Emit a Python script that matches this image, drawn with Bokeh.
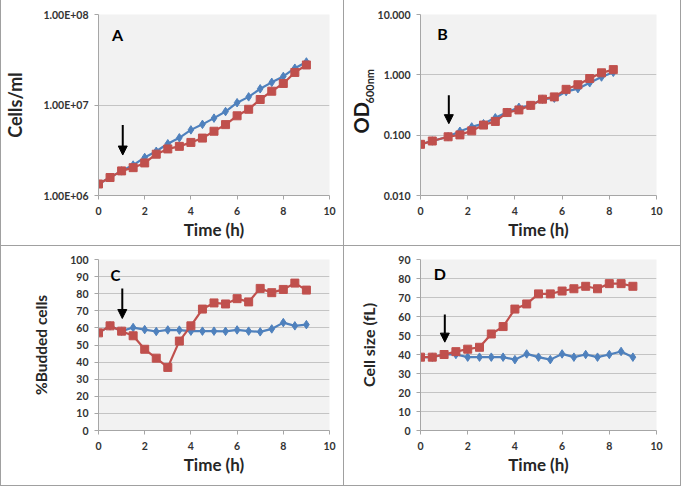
import math
from bokeh.plotting import figure
from bokeh.layouts import gridplot
from bokeh.models import FixedTicker, Label, Arrow, NormalHead, Range1d, Title
from bokeh.embed import file_html
from bokeh.resources import INLINE

# ---------------- data ----------------
time_a = [0, 0.5, 1, 1.5, 2, 2.5, 3, 3.5, 4, 4.5, 5, 5.5, 6, 6.5, 7, 7.5, 8, 8.5, 9]
cells_blue = [1.34e6, 1.58e6, 1.87e6, 2.17e6, 2.63e6, 3.08e6, 3.73e6, 4.34e6, 5.31e6, 6.11e6,
              7.16e6, 8.46e6, 1.06e7, 1.23e7, 1.51e7, 1.78e7, 2.07e7, 2.55e7, 2.99e7]
cells_red = [1.34e6, 1.58e6, 1.87e6, 2.03e6, 2.29e6, 2.86e6, 3.27e6, 3.49e6, 3.86e6, 4.31e6,
             5.13e6, 6.07e6, 7.6e6, 8.97e6, 1.15e7, 1.42e7, 1.73e7, 2.29e7, 2.77e7]

time_b = [0, 0.5, 1.17, 1.67, 2.17, 2.67, 3.17, 3.67, 4.17, 4.67, 5.17, 5.67, 6.17, 6.67, 7.17, 7.67, 8.17]
od_blue = [0.0705, 0.080, 0.094, 0.116, 0.137, 0.155, 0.194, 0.240, 0.289, 0.310,
           0.395, 0.410, 0.527, 0.590, 0.738, 0.920, 1.10]
od_red = [0.0705, 0.080, 0.094, 0.101, 0.118, 0.147, 0.169, 0.237, 0.262, 0.312,
          0.395, 0.431, 0.575, 0.685, 0.869, 1.08, 1.22]

time_c = time_a
budded_blue = [57.1, 61.2, 58.1, 60.2, 59.0, 57.9, 58.8, 58.7, 58.1, 58.1,
               58.1, 58.0, 58.8, 58.1, 57.7, 59.4, 63.1, 61.2, 61.9]
budded_red = [57.1, 61.2, 58.1, 55.4, 47.5, 42.3, 36.9, 52.3, 61.2, 71.0,
              74.6, 74.0, 77.1, 75.2, 83.1, 80.6, 82.5, 86.2, 82.1]

time_d = time_a
size_blue = [38.6, 38.6, 40.0, 40.0, 38.6, 38.6, 38.6, 38.6, 37.3, 40.3,
             38.6, 37.3, 40.3, 38.6, 40.0, 38.6, 40.0, 41.6, 38.6]
size_red = [38.6, 38.6, 40.0, 41.5, 42.8, 43.8, 50.8, 54.7, 63.9, 66.6,
            71.9, 71.9, 73.4, 74.6, 75.9, 74.6, 77.3, 77.3, 75.9]

x_ticks = [0, 2, 4, 6, 8, 10]
a_ticks = [1e6, 1e7, 1e8]
a_tick_labels = ["1.00E+06", "1.00E+07", "1.00E+08"]
b_ticks = [0.01, 0.1, 1, 10]
b_tick_labels = ["0.010", "0.100", "1.000", "10.000"]
c_ticks = list(range(0, 101, 10))
d_ticks = list(range(0, 91, 10))

# ---------------- style ----------------
BLUE = "#4f81bd"
RED = "#c0504d"
FONT = "Lato"
TICK_COL = "#333333"
AXIS_COL = "#a6a6a6"
GRID_COL = "#c4c4c4"
PANEL_LINE = "1px solid #a0a0a0"


def make_panel(w, h, yrange, ytype, ml, mr, mt, mb, borders):
    p = figure(width=w, height=h, y_axis_type=ytype, x_range=Range1d(0, 10), y_range=yrange,
               output_backend="svg", toolbar_location=None,
               min_border_left=ml, min_border_right=mr, min_border_top=mt, min_border_bottom=mb)
    p.background_fill_color = "#f2f2f2"
    p.border_fill_color = "white"
    p.outline_line_color = None
    p.xgrid.grid_line_color = None
    p.ygrid.grid_line_color = GRID_COL
    p.ygrid.grid_line_width = 1
    p.xaxis.ticker = FixedTicker(ticks=x_ticks)
    for ax in (p.xaxis[0], p.yaxis[0]):
        ax.axis_line_color = AXIS_COL
        ax.major_tick_line_color = AXIS_COL
        ax.major_tick_out = 4
        ax.major_tick_in = 0
        ax.minor_tick_line_color = None
        ax.major_label_text_font = FONT
        ax.major_label_text_font_style = "bold"
        ax.major_label_text_font_size = "10.5px"
        ax.major_label_text_color = TICK_COL
        ax.axis_label_text_font = FONT
        ax.axis_label_text_font_style = "bold"
        ax.axis_label_text_color = "#262626"
    p.xaxis.axis_label = "Time (h)"
    p.xaxis.axis_label_text_font_size = "17px"
    p.xaxis.axis_label_standoff = 1
    p.xaxis.major_label_standoff = 7
    p.yaxis.major_label_standoff = 6
    st = {}
    for b in borders:
        st["border-" + b] = PANEL_LINE
    st["box-sizing"] = "border-box"
    p.styles = st
    return p


def add_series(p, t, blue, red):
    p.line(t, blue, color=BLUE, line_width=2.2)
    p.scatter(t, blue, marker="diamond", size=8.5, color=BLUE)
    p.line(t, red, color=RED, line_width=2.2)
    p.scatter(t, red, marker="square", size=8, color=RED)


def add_arrow(p, x, y0, y1):
    p.add_layout(Arrow(end=NormalHead(size=9, fill_color="black", line_color="black"),
                       x_start=x, y_start=y0, x_end=x, y_end=y1,
                       line_color="black", line_width=2))


def add_letter(p, txt, x, y, size="16px"):
    p.add_layout(Label(x=x, y=y, text=txt, text_font=FONT, text_font_style="bold",
                       text_font_size=size, text_align="center", text_baseline="middle",
                       text_color="black"))


# Panel A
pa = make_panel(344, 246, Range1d(1e6, 1e8), "log", 85, 16, 13, 51, ["left", "right", "bottom"])
pa.yaxis.ticker = FixedTicker(ticks=a_ticks)
pa.yaxis.major_label_overrides = {k: v for k, v in zip(a_ticks, a_tick_labels)}
pa.yaxis.axis_label = "Cells/ml"
pa.yaxis.axis_label_text_font_size = "18px"
pa.yaxis.axis_label_standoff = 14
add_series(pa, time_a, cells_blue, cells_red)
add_arrow(pa, 1.05, 6.0e6, 2.8e6)
add_letter(pa, "A", 0.82, 6.0e7)

# Panel B
pb = make_panel(337, 246, Range1d(0.01, 10), "log", 68, 25, 14, 51, ["right", "bottom"])
pb.yaxis.ticker = FixedTicker(ticks=b_ticks)
pb.yaxis.major_label_overrides = {k: v for k, v in zip(b_ticks, b_tick_labels)}
add_series(pb, time_b, od_blue, od_red)
add_arrow(pb, 1.2, 0.46, 0.155)
add_letter(pb, "B", 0.93, 4.8)
# y-axis title "OD" with subscript "600nm", stacked at the left of the axis
pb.add_layout(Title(text="600nm", align="left", offset=92, vertical_align="middle",
                    standoff=-4, text_font=FONT, text_font_style="bold",
                    text_font_size="11px", text_color="#262626"), "left")
pb.add_layout(Title(text="OD", align="left", offset=62, vertical_align="middle",
                    standoff=-20, text_font=FONT, text_font_style="bold",
                    text_font_size="20px", text_color="#1a1a1a"), "left")

# Panel C
pc = make_panel(344, 240, Range1d(0, 100), "linear", 86, 16, 13, 56, ["left", "right", "bottom"])
pc.yaxis.ticker = FixedTicker(ticks=c_ticks)
pc.yaxis.axis_label = "%Budded cells"
pc.yaxis.axis_label_text_font_size = "15.5px"
pc.yaxis.axis_label_standoff = 17
add_series(pc, time_c, budded_blue, budded_red)
add_arrow(pc, 1.03, 83, 65.5)
add_letter(pc, "C", 0.73, 91, "15px")

# Panel D
pd = make_panel(337, 240, Range1d(0, 90), "linear", 76, 19, 13, 50, ["right", "bottom"])
pd.yaxis.ticker = FixedTicker(ticks=d_ticks)
pd.yaxis.axis_label = "Cell size (fL)"
pd.yaxis.axis_label_text_font_size = "16px"
pd.yaxis.axis_label_standoff = 17
add_series(pd, time_d, size_blue, size_red)
add_arrow(pd, 1.03, 61, 46.5)
add_letter(pd, "D", 0.82, 82.4)

grid = gridplot([[pa, pb], [pc, pd]], toolbar_location=None)

open("out.html", "w").write(file_html(grid, INLINE))
